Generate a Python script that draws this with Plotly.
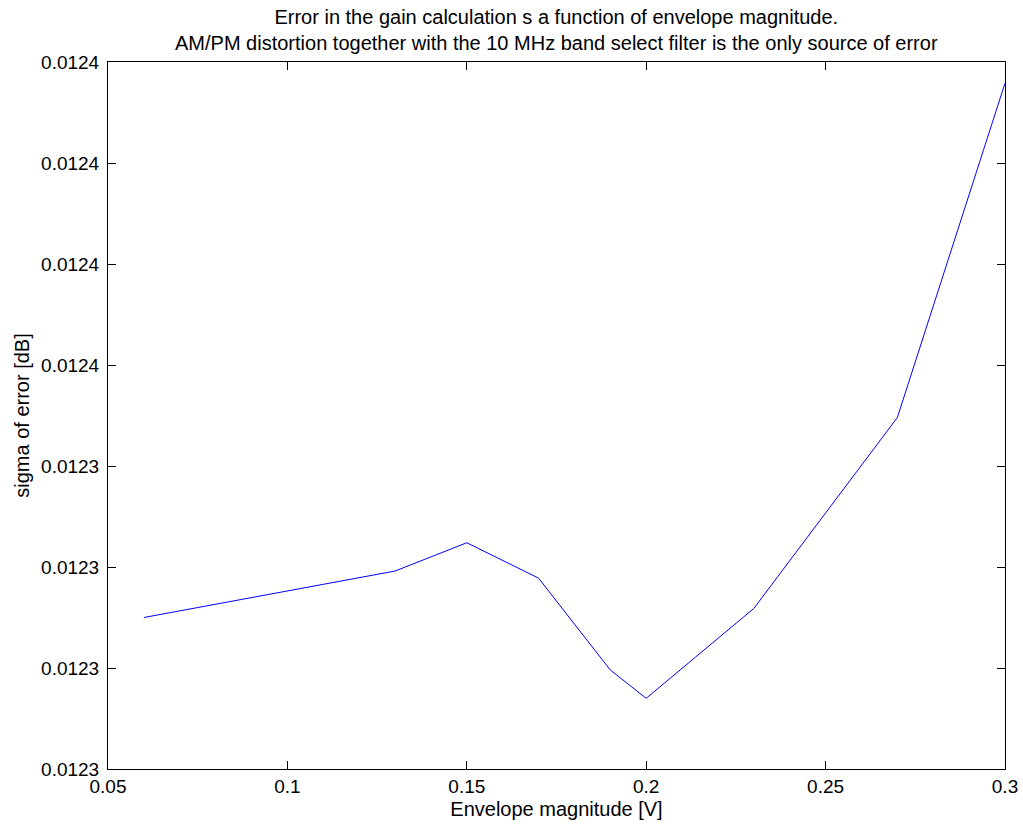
import plotly.graph_objects as go

envelope_magnitude = [0.06, 0.13, 0.15, 0.17, 0.19, 0.20, 0.23, 0.27, 0.30]
sigma_error = [0.0123250, 0.0123296, 0.0123324, 0.0123289, 0.0123198,
               0.0123170, 0.0123259, 0.0123448, 0.0123779]

x_tick_vals = [0.05, 0.1, 0.15, 0.2, 0.25, 0.3]
x_tick_text = ["0.05", "0.1", "0.15", "0.2", "0.25", "0.3"]
y_tick_vals = [0.01231, 0.01232, 0.01233, 0.01234, 0.01235, 0.01236, 0.01237, 0.01238]
y_tick_text = ["0.0123", "0.0123", "0.0123", "0.0123", "0.0124", "0.0124", "0.0124", "0.0124"]

title_lines = ["Error in the gain calculation s a function of envelope magnitude.",
               "AM/PM distortion together with the 10 MHz band select filter is the only source of error"]

font_family = "Liberation Sans, Arial, sans-serif"

fig = go.Figure()
fig.add_trace(go.Scatter(
    x=envelope_magnitude, y=sigma_error, mode="lines",
    line=dict(color="#0000ff", width=1), showlegend=False,
))

axis_common = dict(
    showline=True, linecolor="#000000", linewidth=1, mirror="ticks",
    ticks="inside", ticklen=8, tickcolor="#000000", tickwidth=1,
    showgrid=False, zeroline=False, automargin=False,
    tickfont=dict(family=font_family, size=19, color="#000000"),
)

fig.update_layout(
    width=1023, height=827,
    margin=dict(l=108, r=18, t=62, b=58),
    paper_bgcolor="#ffffff", plot_bgcolor="#ffffff",
    font=dict(family=font_family, color="#000000"),
    xaxis=dict(
        range=[0.05, 0.3], tickvals=x_tick_vals, ticktext=x_tick_text,
        title=dict(text="Envelope magnitude [V]", font=dict(family=font_family, size=20), standoff=6),
        **axis_common,
    ),
    yaxis=dict(
        range=[0.01231, 0.01238], tickvals=y_tick_vals, ticktext=y_tick_text,
        title=dict(text="sigma of error [dB]", font=dict(family=font_family, size=20), standoff=6),
        ticklabelstandoff=4,
        **axis_common,
    ),
    annotations=[dict(
        text="<br>".join(title_lines), xref="paper", yref="paper",
        x=0.5, y=1, xanchor="center", yanchor="bottom", yshift=6,
        showarrow=False, align="center",
        font=dict(family=font_family, size=20, color="#000000"),
    )],
)

fig.write_html("out.html")
